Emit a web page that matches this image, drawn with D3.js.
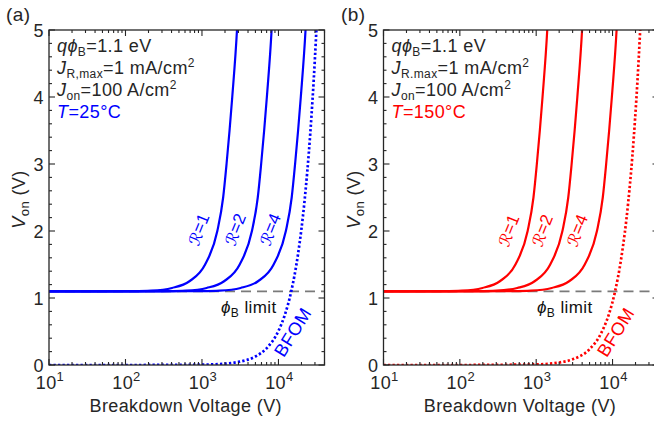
<!DOCTYPE html>
<html>
<head>
<meta charset="utf-8">
<script src="https://d3js.org/d3.v7.min.js"></script>
<style>
  html, body { margin: 0; padding: 0; background: #fff; }
  svg { display: block; font-family: "Liberation Sans", Arial, Helvetica, sans-serif; }
</style>
</head>
<body>
<svg id="chart" width="654" height="422"></svg>
<script>
// ---------------- DATA ----------------
const xTickValues = [10, 100, 1000, 10000];
const xTickExponents = ["1", "2", "3", "4"];
const yTickValues = [0, 1, 2, 3, 4, 5];
const phiBLimit = 1.1;

// On-voltage levels shared by the R-curves
const vLevels = [1.1, 1.1, 1.103, 1.11, 1.15, 1.25, 1.5, 2.0, 2.5, 3.0, 4.0, 5.0, 5.6];

// Panel (a), T = 25 °C : breakdown voltage at each level of vLevels
const bvA_R1 = [10, 38, 127, 217, 406, 686, 1099, 1588, 1892, 2096, 2489, 2870, 3048];
const bvA_R2 = [10, 108, 360, 616, 1152, 1944, 3114, 4500, 5364, 5940, 7056, 8136, 8640];
const bvA_R4 = [10, 300, 1000, 1711, 3200, 5400, 8650, 12500, 14900, 16500, 19600, 22600, 24000];
const bfomA_BV = [10, 100, 1000, 2000, 3000, 5000, 7000, 10000, 12000, 14700, 18000, 22000, 26000, 30000, 32000];
const bfomA_V  = [0, 0.00005, 0.0051, 0.0204, 0.0458, 0.127, 0.249, 0.509, 0.733, 1.1, 1.649, 2.464, 3.44, 4.58, 5.21];

// Panel (b), T = 150 °C
const bvB_R1 = [10, 18.5, 62, 106, 198, 334, 535, 773, 921, 1020, 1211, 1396, 1483];
const bvB_R2 = [10, 53, 177, 302, 565, 953, 1527, 2206, 2630, 2912, 3460, 3990, 4236];
const bvB_R4 = [10, 150, 500, 856, 1600, 2700, 4325, 6250, 7450, 8250, 9800, 11300, 12000];
const bfomB_BV = [10, 100, 1000, 2000, 3000, 5000, 7000, 9000, 10800, 13000, 16000, 19000, 22000, 23500];
const bfomB_V  = [0, 0.0001, 0.0094, 0.0377, 0.0849, 0.236, 0.462, 0.764, 1.1, 1.594, 2.414, 3.404, 4.564, 5.21];

const rLabels = ["1", "2", "4"];

// ---------------- DRAWING ----------------
const svg = d3.select("#chart");
const textColor = "#262626";
const FS = 18;      // main font size
const LS = 0.4;     // letter spacing

const panels = [
  { id: "a", left: 49, right: 324.5, color: "#0000ff", tLabel: "25", jrSep: ",",
    curves: [bvA_R1, bvA_R2, bvA_R4], bfomBV: bfomA_BV, bfomV: bfomA_V,
    rLabelPos: [[200, 230], [236.5, 230], [271.5, 230]], bfomPos: [294, 333], phiPos: 221, tagX: 6 },
  { id: "b", left: 383.5, right: 658.5, color: "#ff0000", tLabel: "150", jrSep: ".",
    curves: [bvB_R1, bvB_R2, bvB_R4], bfomBV: bfomB_BV, bfomV: bfomB_V,
    rLabelPos: [[510, 231], [543.5, 231], [578.5, 231]], bfomPos: [617, 333], phiPos: 537, tagX: 341 }
];

const plotTop = 30, plotBottom = 365;

panels.forEach(p => {
  const x = d3.scaleLog().domain([10, 40000]).range([p.left, p.right]);
  const y = d3.scaleLinear().domain([0, 5]).range([plotBottom, plotTop]);
  const g = svg.append("g").attr("letter-spacing", LS);

  const clipId = "clip-" + p.id;
  svg.append("defs").append("clipPath").attr("id", clipId)
    .append("rect").attr("x", p.left).attr("y", plotTop)
    .attr("width", p.right - p.left).attr("height", plotBottom - plotTop);

  // phi_B limit dashed line
  g.append("line")
    .attr("x1", x(10)).attr("x2", x(40000))
    .attr("y1", y(phiBLimit)).attr("y2", y(phiBLimit))
    .attr("stroke", "#7a7a7a").attr("stroke-width", 1.8)
    .attr("stroke-dasharray", "10,6");

  const line = d3.line().x(d => x(d[0])).y(d => y(d[1])).curve(d3.curveMonotoneX);
  const curvesG = g.append("g").attr("clip-path", `url(#${clipId})`);

  // BFOM dotted
  curvesG.append("path")
    .datum(p.bfomBV.map((b, i) => [b, p.bfomV[i]]))
    .attr("d", line).attr("fill", "none")
    .attr("stroke", p.color).attr("stroke-width", 2.7)
    .attr("stroke-dasharray", "2.3,2.2");

  // R curves
  p.curves.forEach(bv => {
    curvesG.append("path")
      .datum(bv.map((b, i) => [b, vLevels[i]]))
      .attr("d", line).attr("fill", "none")
      .attr("stroke", p.color).attr("stroke-width", 2.2);
  });

  // Frame
  g.append("rect").attr("x", p.left).attr("y", plotTop)
    .attr("width", p.right - p.left).attr("height", plotBottom - plotTop)
    .attr("fill", "none").attr("stroke", textColor).attr("stroke-width", 1.3);

  // x ticks (major + minor), inward, bottom and top
  const minor = [];
  for (let d = 1; d <= 4; d++) for (let k = 2; k <= 9; k++) {
    const v = k * Math.pow(10, d);
    if (v <= 40000) minor.push(v);
  }
  const ticksG = g.append("g").attr("stroke", textColor).attr("stroke-width", 1.1);
  xTickValues.forEach(v => {
    ticksG.append("line").attr("x1", x(v)).attr("x2", x(v)).attr("y1", plotBottom).attr("y2", plotBottom - 6);
    ticksG.append("line").attr("x1", x(v)).attr("x2", x(v)).attr("y1", plotTop).attr("y2", plotTop + 6);
  });
  minor.forEach(v => {
    ticksG.append("line").attr("x1", x(v)).attr("x2", x(v)).attr("y1", plotBottom).attr("y2", plotBottom - 3);
    ticksG.append("line").attr("x1", x(v)).attr("x2", x(v)).attr("y1", plotTop).attr("y2", plotTop + 3);
  });
  // y ticks
  d3.range(0, 5.001, 0.2).forEach(v => {
    const major = Math.abs(v - Math.round(v)) < 1e-6;
    const len = major ? 6 : 3;
    ticksG.append("line").attr("x1", p.left).attr("x2", p.left + len).attr("y1", y(v)).attr("y2", y(v));
    ticksG.append("line").attr("x1", p.right).attr("x2", p.right - len).attr("y1", y(v)).attr("y2", y(v));
  });

  // x tick labels 10^n
  xTickValues.forEach((v, i) => {
    const t = g.append("text").attr("x", x(v) + 1).attr("y", 389)
      .attr("text-anchor", "middle").attr("fill", textColor).attr("font-size", FS);
    t.append("tspan").text("10");
    t.append("tspan").attr("dy", -8).attr("font-size", 13).text(xTickExponents[i]);
  });
  // y tick labels
  yTickValues.forEach(v => {
    g.append("text").attr("x", p.left - 5).attr("y", y(v) + 6.5)
      .attr("text-anchor", "end").attr("fill", textColor).attr("font-size", FS).text(v);
  });

  // axis titles
  g.append("text").attr("x", (p.left + p.right) / 2 - 1).attr("y", 412)
    .attr("text-anchor", "middle").attr("fill", textColor).attr("font-size", FS)
    .text("Breakdown Voltage (V)");
  const yl = g.append("text")
    .attr("transform", `translate(${p.left - 24},${(plotTop + plotBottom) / 2 + 2}) rotate(-90)`)
    .attr("text-anchor", "middle").attr("fill", textColor).attr("font-size", FS);
  yl.append("tspan").attr("font-style", "italic").text("V");
  yl.append("tspan").attr("font-size", 13).attr("dy", 4).text("on");
  yl.append("tspan").attr("dy", -4).text(" (V)");

  // panel tag
  g.append("text").attr("x", p.tagX).attr("y", 21).attr("fill", textColor)
    .attr("font-size", FS + 1).text(`(${p.id})`);

  // parameter annotations
  const ax = p.left + 8;
  const t1 = g.append("text").attr("x", ax).attr("y", 52).attr("fill", textColor).attr("font-size", FS);
  t1.append("tspan").attr("font-style", "italic").text("qϕ");
  t1.append("tspan").attr("font-size", 12).attr("dy", 4).text("B");
  t1.append("tspan").attr("dy", -4).text("=1.1 eV");

  const t2 = g.append("text").attr("x", ax).attr("y", 74).attr("fill", textColor).attr("font-size", FS);
  t2.append("tspan").attr("font-style", "italic").text("J");
  t2.append("tspan").attr("font-size", 12).attr("dy", 4).text("R" + p.jrSep + "max");
  t2.append("tspan").attr("dy", -4).text("=1 mA/cm");
  t2.append("tspan").attr("font-size", 12).attr("dy", -7).text("2");

  const t3 = g.append("text").attr("x", ax).attr("y", 96).attr("fill", textColor).attr("font-size", FS);
  t3.append("tspan").attr("font-style", "italic").text("J");
  t3.append("tspan").attr("font-size", 12).attr("dy", 4).text("on");
  t3.append("tspan").attr("dy", -4).text("=100 A/cm");
  t3.append("tspan").attr("font-size", 12).attr("dy", -7).text("2");

  const t4 = g.append("text").attr("x", ax).attr("y", 118).attr("fill", p.color).attr("font-size", FS);
  t4.append("tspan").attr("font-style", "italic").text("T");
  t4.append("tspan").text("=" + p.tLabel + "°C");

  // phi_B limit label
  const pl = g.append("text").attr("x", p.phiPos).attr("y", 313).attr("fill", "#111").attr("font-size", 17);
  pl.append("tspan").attr("font-style", "italic").text("ϕ");
  pl.append("tspan").attr("font-size", 12).attr("dy", 4).text("B");
  pl.append("tspan").attr("dy", -4).text(" limit");

  // R labels
  p.rLabelPos.forEach((pos, i) => {
    const rt = g.append("text")
      .attr("transform", `translate(${pos[0]},${pos[1]}) rotate(-68)`)
      .attr("text-anchor", "middle").attr("dominant-baseline", "middle")
      .attr("fill", p.color).attr("font-size", 17).attr("letter-spacing", 0);
    rt.append("tspan").attr("font-family", "'DejaVu Sans'").attr("font-size", 16).text("ℛ");
    rt.append("tspan").text("=" + rLabels[i]);
  });

  // BFOM label
  g.append("text")
    .attr("transform", `translate(${p.bfomPos[0]},${p.bfomPos[1]}) rotate(-58)`)
    .attr("text-anchor", "middle").attr("dominant-baseline", "middle")
    .attr("fill", p.color).attr("font-size", 18).text("BFOM");
});
</script>
</body>
</html>
